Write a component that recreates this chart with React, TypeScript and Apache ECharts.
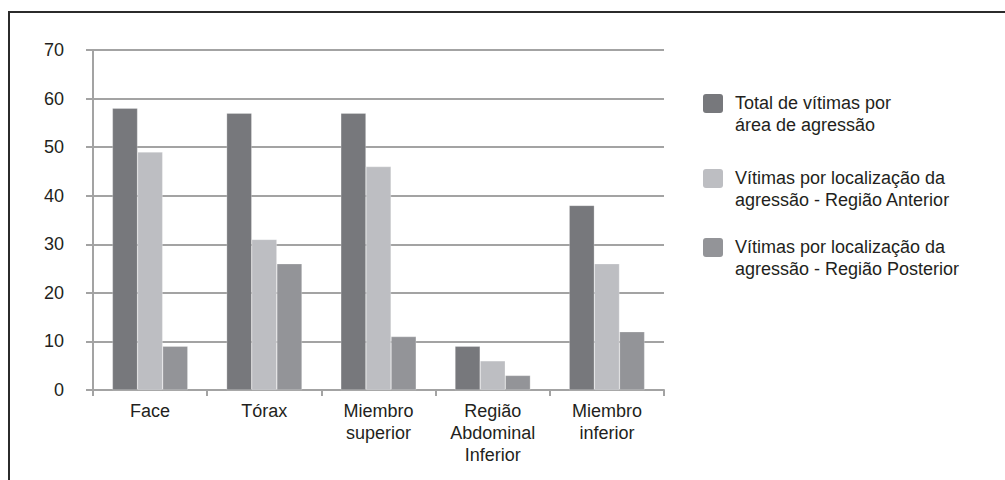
import React, { useEffect, useRef } from "react";
import * as echarts from "echarts";

const categories = ["Face", "Tórax", "Miembro\nsuperior", "Região\nAbdominal\nInferior", "Miembro\ninferior"];
const seriesNames = [
  "Total de vítimas por\nárea de agressão",
  "Vítimas por localização da\nagressão - Região Anterior",
  "Vítimas por localização da\nagressão - Região Posterior",
];
const totalValues = [58, 57, 57, 9, 38];
const anteriorValues = [49, 31, 46, 6, 26];
const posteriorValues = [9, 26, 11, 3, 12];
const colors = ["#77787c", "#bdbec2", "#939498"];

const FONT = '"Liberation Sans", Arial, sans-serif';
const TEXT = "#231f20";
const GRID = "#a3a3a3";

export default function App() {
  const ref = useRef<HTMLDivElement>(null);
  useEffect(() => {
    document.body.style.margin = "0";
    const chart = echarts.init(ref.current!, undefined, { renderer: "svg" });
    const data = [totalValues, anteriorValues, posteriorValues];
    const legendTops = [92, 167, 236];
    const legendGraphics: any[] = [];
    seriesNames.forEach((name, i) => {
      legendGraphics.push({
        type: "rect",
        shape: { x: 703, y: legendTops[i] + 2, width: 20, height: 19, r: 3 },
        style: { fill: colors[i] },
      });
      legendGraphics.push({
        type: "text",
        x: 735,
        y: legendTops[i],
        style: {
          text: name,
          font: `18px ${FONT}`,
          lineHeight: 22,
          fill: TEXT,
          verticalAlign: "top",
          align: "left",
        },
      });
    });
    chart.setOption({
      animation: false,
      grid: { left: 93, right: 341, top: 50, bottom: 90, containLabel: false },
      xAxis: {
        type: "category",
        data: categories,
        axisLine: { show: true, lineStyle: { color: GRID, width: 2 } },
        axisTick: { show: true, length: 6, lineStyle: { color: GRID, width: 2 } },
        axisLabel: {
          interval: 0,
          margin: 10,
          fontSize: 18,
          lineHeight: 22,
          color: TEXT,
          fontFamily: FONT,
        },
      },
      yAxis: {
        type: "value",
        min: 0,
        max: 70,
        interval: 10,
        axisLine: { show: true, lineStyle: { color: GRID, width: 2 } },
        axisTick: { show: true, length: 7, lineStyle: { color: GRID, width: 2 } },
        splitLine: { show: true, lineStyle: { color: GRID, width: 2 } },
        axisLabel: { margin: 29, fontSize: 18, color: TEXT, fontFamily: FONT },
      },
      series: data.map((vals, i) => ({
        type: "bar",
        name: seriesNames[i],
        data: vals,
        barGap: "0%",
        barCategoryGap: "34%",
        itemStyle: { color: colors[i], borderColor: "rgba(255,255,255,0.5)", borderWidth: 0.5 },
      })),
      graphic: [
        {
          type: "polyline",
          shape: { points: [[9, 480], [9, 12], [1005, 12]] },
          style: { stroke: "#2b2b2b", lineWidth: 2, fill: "none" },
        },
        ...legendGraphics,
      ],
    });
    return () => chart.dispose();
  }, []);
  return <div ref={ref} style={{ width: 1005, height: 480 }} />;
}
